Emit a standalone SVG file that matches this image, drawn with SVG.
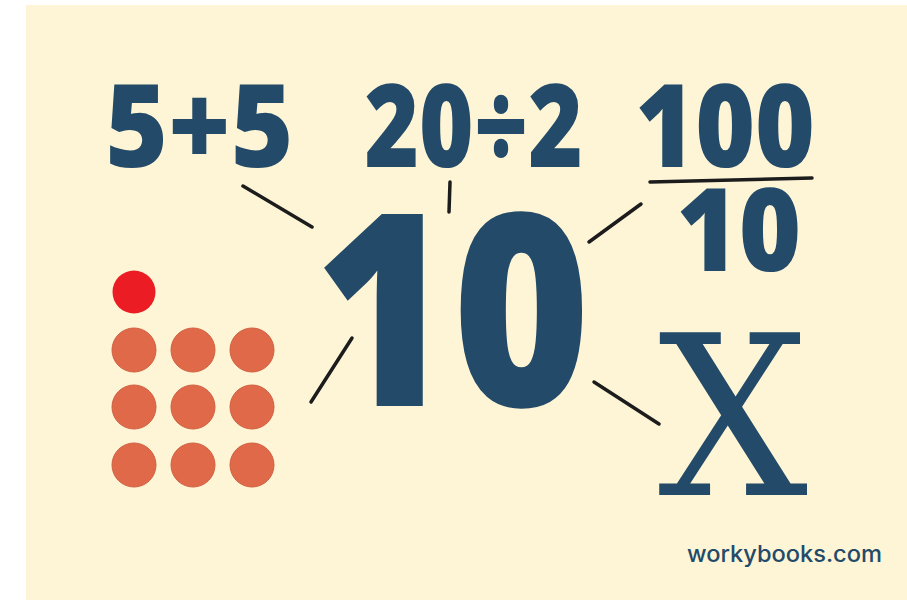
<svg xmlns="http://www.w3.org/2000/svg" width="907" height="600" viewBox="0 0 907 600">
<style>
.num{font-family:"Open Sans","Liberation Sans",sans-serif;font-weight:800;fill:#234a68}
.ser{font-family:"DejaVu Serif","Liberation Serif",serif;fill:#234a68}
.web{font-family:Inter,"Liberation Sans",sans-serif;font-weight:500;fill:#234a68}
.ln{stroke:#1c1c1c;stroke-width:3.5;stroke-linecap:round;fill:none}
.dot{fill:#e0694a;stroke:#d0603f;stroke-width:1}
</style>
<rect x="0" y="0" width="907" height="600" fill="#ffffff"/>
<rect x="26" y="5" width="881" height="595" fill="#fdf5d6"/>
<g id="expr-5plus5"><text class="num" x="102" y="167" font-size="116" transform="matrix(0.923,0,0,1,11.1,0)">5+5</text></g>
<g id="expr-20div2"><text class="num" x="361" y="167" font-size="116" transform="matrix(0.804,0,0,1,74.2,0)">20÷2</text></g>
<g id="expr-fraction">
<text class="num" x="626" y="167" font-size="116" transform="matrix(0.882,0,0,1,83.1,0)">100</text>
<line class="ln" x1="650" y1="182" x2="812" y2="178" stroke-width="4"/>
<text class="num" x="670" y="271" font-size="116" transform="matrix(0.92,0,0,1,59.9,0)">10</text>
</g>
<g id="ten"><text class="num" x="298" y="406" font-size="269" transform="matrix(0.875,0,0,1,53.75,0)">10</text></g>
<g id="roman-x"><text class="ser" x="658" y="495" font-size="222" textLength="150" lengthAdjust="spacingAndGlyphs">X</text></g>
<g id="dots">
<circle cx="134" cy="292" r="21.5" fill="#ec1c24"/>
<circle class="dot" cx="134" cy="350" r="22"/>
<circle class="dot" cx="193" cy="350" r="22"/>
<circle class="dot" cx="252" cy="350" r="22"/>
<circle class="dot" cx="134" cy="407" r="22"/>
<circle class="dot" cx="193" cy="407" r="22"/>
<circle class="dot" cx="252" cy="407" r="22"/>
<circle class="dot" cx="134" cy="465" r="22"/>
<circle class="dot" cx="193" cy="465" r="22"/>
<circle class="dot" cx="252" cy="465" r="22"/>
</g>
<g id="connectors">
<line class="ln" x1="243" y1="186" x2="312" y2="227"/>
<line class="ln" x1="450" y1="182" x2="449" y2="212"/>
<line class="ln" x1="641" y1="204" x2="589" y2="242"/>
<line class="ln" x1="352" y1="338" x2="311" y2="402"/>
<line class="ln" x1="594" y1="382" x2="659" y2="424"/>
</g>
<g id="watermark"><text class="web" x="687" y="562" font-size="23" textLength="195" lengthAdjust="spacingAndGlyphs">workybooks.com</text></g>
</svg>
